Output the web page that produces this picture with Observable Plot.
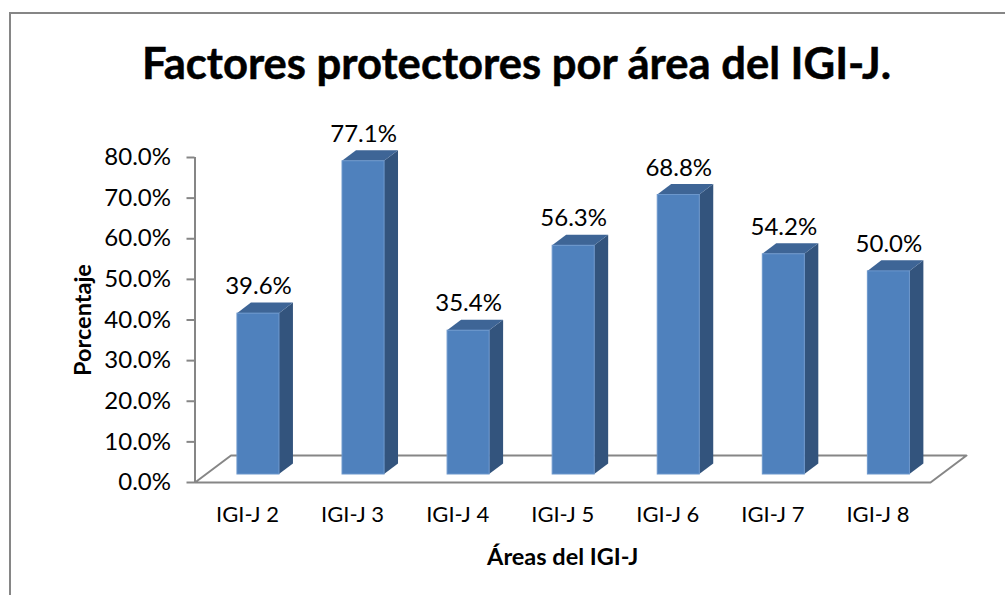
<!DOCTYPE html>
<html>
<head>
<meta charset="utf-8">
<script src="https://cdn.jsdelivr.net/npm/d3@7"></script>
<script src="https://cdn.jsdelivr.net/npm/@observablehq/plot@0.6"></script>
<style>
  html, body { margin: 0; padding: 0; background: #fff; overflow: hidden; }
  #page { position: relative; width: 1005px; height: 595px; overflow: hidden; }
  #frame { position: absolute; left: 9px; top: 12px; width: 1100px; height: 700px; border: 2px solid #868686; box-sizing: border-box; pointer-events: none; }
  #title { position: absolute; left: 0; top: 34px; width: 1033px; text-align: center; font: 700 43.6px/56px Lato, sans-serif; color: #000; white-space: nowrap; -webkit-text-stroke: 0.5px #000; }
  #chart { position: absolute; left: 0; top: 115px; }
  #chart svg { display: block; background: transparent; }
</style>
</head>
<body>
<div id="page">
  <div id="frame"></div>
  <div id="title">Factores protectores por área del IGI-J.</div>
  <div id="chart"></div>
</div>
<script>
const categories = ["IGI-J 2", "IGI-J 3", "IGI-J 4", "IGI-J 5", "IGI-J 6", "IGI-J 7", "IGI-J 8"];
const values = [39.6, 77.1, 35.4, 56.3, 68.8, 54.2, 50.0];
const yTicks = [0, 10, 20, 30, 40, 50, 60, 70, 80];

// Pseudo-3D extents, in data units of the x and y scales
const barStart = 0.404, barWidth = 0.4;
const barDepthX = 0.133, barDepthY = 2.6;
const floorDepthX = 0.3425, floorDepthY = 6.65;
const barLift = -8;

const rows = categories.map((c, i) => ({
  c, i, v: values[i], x1: i + barStart, x2: i + barStart + barWidth
}));
const sideRows = rows.flatMap(d => [
  {i: d.i, x: d.x2, y1: 0, y2: d.v},
  {i: d.i, x: d.x2 + barDepthX, y1: barDepthY, y2: d.v + barDepthY}
]);
const topRows = rows.flatMap(d => [
  {i: d.i, y: d.v, x1: d.x1, x2: d.x2},
  {i: d.i, y: d.v + barDepthY, x1: d.x1 + barDepthX, x2: d.x2 + barDepthX}
]);
const n = categories.length;
const floor = [
  {x: 0, y: 0}, {x: n, y: 0}, {x: n + floorDepthX, y: floorDepthY},
  {x: floorDepthX, y: floorDepthY}, {x: 0, y: 0}
];

const gray = "#868686";
const plot = Plot.plot({
  width: 1005,
  height: 480,
  marginLeft: 194.5,
  marginRight: 75,
  marginTop: 42,
  marginBottom: 113,
  style: {fontFamily: "Lato, sans-serif", background: "transparent", color: "#000"},
  x: {domain: [0, n], axis: null},
  y: {domain: [0, 80], axis: null},
  marks: [
    Plot.line(floor, {x: "x", y: "y", stroke: gray, strokeWidth: 2, curve: "linear"}),
    Plot.ruleX([0], {y1: 0, y2: 80, stroke: gray, strokeWidth: 2}),
    Plot.axisY({
      ticks: yTicks, tickFormat: d => d.toFixed(1) + "%", tickSize: 8, tickPadding: 16,
      stroke: gray, strokeWidth: 2, fill: "#000", fontSize: 24, label: null
    }),
    Plot.axisX({
      ticks: categories.map((c, i) => i + 0.5), tickFormat: t => categories[Math.floor(t)],
      tickSize: 0, tickPadding: 24, fill: "#000", fontSize: 22, label: null
    }),
    Plot.areaY(sideRows, {x: "x", y1: "y1", y2: "y2", z: "i", fill: "#33547d", dy: barLift, curve: "linear"}),
    Plot.areaX(topRows, {y: "y", x1: "x1", x2: "x2", z: "i", fill: "#3e6596", dy: barLift, curve: "linear"}),
    Plot.rect(rows, {x1: "x1", x2: "x2", y1: 0, y2: "v", fill: "#4f81bd", stroke: "#6c97cc", strokeWidth: 1, dy: barLift}),
    Plot.text(rows, {
      x: d => (d.x1 + d.x2) / 2, y: "v", text: d => d.v.toFixed(1) + "%",
      dy: -35, lineAnchor: "middle", fontSize: 24, fill: "#000"
    }),
    Plot.text(["Porcentaje"], {frameAnchor: "left", textAnchor: "middle", lineAnchor: "middle", rotate: -90, dx: -112, fontSize: 23.5, fontWeight: 700, fill: "#000"}),
    Plot.text(["Áreas del IGI-J"], {frameAnchor: "bottom", lineAnchor: "middle", dy: 75, fontSize: 23.5, fontWeight: 700, fill: "#000"})
  ]
});
document.getElementById("chart").appendChild(plot);
</script>
</body>
</html>
